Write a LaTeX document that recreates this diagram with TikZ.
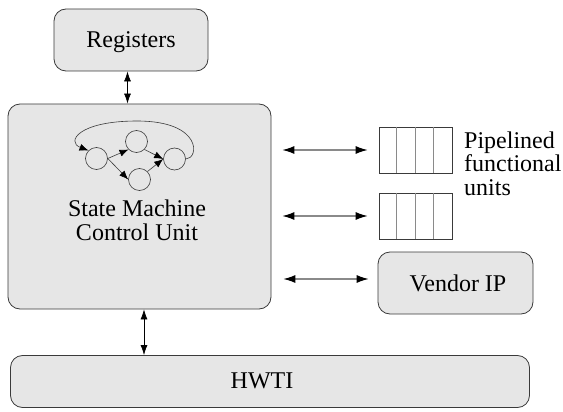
\documentclass[tikz,border=0pt]{standalone}
\usepackage{fontspec}
\setmainfont{Liberation Serif}
\newfontfamily\labelfont{Liberation Serif}
\usetikzlibrary{arrows.meta}
\definecolor{boxfill}{HTML}{E6E6E6}
\definecolor{boxline}{HTML}{3A3A3A}
\definecolor{linkgray}{HTML}{8A8A8A}
\begin{document}
\begin{tikzpicture}[x=1pt,y=-1pt,
  every node/.style={font=\labelfont\fontsize{24}{23.5}\selectfont, inner sep=0pt},
  block/.style={draw=boxline, fill=boxfill, line width=0.8pt, rounded corners=12pt},
  pipecell/.style={draw=boxline, fill=white, line width=0.8pt},
  state/.style={draw=boxline, circle, minimum size=22pt, line width=0.6pt},
  link/.style={draw=black, line width=0.7pt, {Latex[length=10pt,width=7pt]}-{Latex[length=10pt,width=7pt]}},
  hlink/.style={draw=linkgray, line width=1.1pt, {Latex[length=12pt,width=8pt,color=black]}-{Latex[length=12pt,width=8pt,color=black]}},
  trans/.style={draw=boxline, line width=0.6pt, -{Latex[length=9pt,width=7pt,color=black]}}
]
\useasboundingbox (0,0) rectangle (563,412);

% main blocks
\node[block, minimum width=154pt, minimum height=62pt] (reg) at (131,40) {};
\node at (131,42) {Registers};
\node[block, minimum width=263pt, minimum height=205pt] (sm) at (139.5,206.5) {};
\node[block, minimum width=519pt, minimum height=52pt] (hwti) at (270,381.5) {};
\node at (262,381) {HWTI};
\node[block, minimum width=155pt, minimum height=62pt] (ven) at (455.5,283) {};
\node at (458,283) {Vendor IP};

% state machine text (base anchor sits on the last line)
\node[align=center, anchor=base] (smtext) at (137,240) {State Machine\\Control Unit};

% pipelined functional units
\node[pipecell, minimum width=73pt, minimum height=46pt] (p1) at (415.5,150) {};
\node[pipecell, minimum width=73pt, minimum height=46pt] (p2) at (415.5,216) {};
\foreach \p in {p1,p2}{
  \foreach \dx in {18.25,36.5,54.75}{
    \draw[linkgray, line width=1pt] ([xshift=\dx pt]\p.north west) -- ([xshift=\dx pt]\p.south west);
  }
}
\node[align=left, anchor=base west] (pftext) at (464,195) {Pipelined\\functional\\units};

% state diagram
\node[state] (sA) at (96.5,158.5) {};
\node[state] (sB) at (136.5,141.5) {};
\node[state] (sC) at (139.5,179.5) {};
\node[state] (sD) at (174.5,159) {};
\coordinate (fork) at (sA.east);
\coordinate (join) at (sD.west);
\draw[trans] (fork) -- (sB.south west);
\draw[trans] (fork) -- (sC.west);
\draw[trans] (sB.south east) -- (join);
\draw[trans] (sC.north east) -- (join);
\draw[trans] (sD.east) .. controls (199,159) and (203,121) .. (137,121)
  .. controls (78,121) and (66,142) .. (sA.north west);

% connectors
\coordinate (regport) at (reg.south -| 127.5,0);
\coordinate (smtop) at (sm.north -| 127.5,0);
\draw[link] (regport) -- (smtop);
\coordinate (smbot) at (sm.south -| 144,0);
\coordinate (hwtitop) at (hwti.north -| 144,0);
\draw[link] (smbot) -- (hwtitop);

\coordinate (a1) at (sm.east |- p1.west);
\coordinate (a2) at (sm.east |- p2.west);
\coordinate (a3s) at (sm.east |- 0,279);
\coordinate (a3e) at (ven.west |- 0,279);
\draw[hlink, shorten <=11pt, shorten >=11pt] (a1) -- (p1.west);
\draw[hlink, shorten <=11pt, shorten >=11pt] (a2) -- (p2.west);
\draw[hlink, shorten <=12pt, shorten >=9pt] (a3s) -- (a3e);
\end{tikzpicture}
\end{document}
